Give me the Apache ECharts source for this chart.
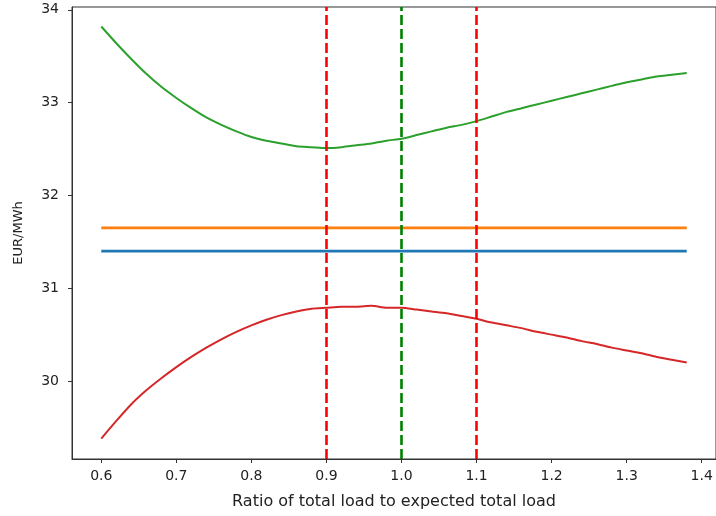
<!DOCTYPE html>
<html>
<head>
<meta charset="utf-8">
<script src="https://cdn.jsdelivr.net/npm/echarts@6/dist/echarts.min.js"></script>
<style>
  html, body { margin: 0; padding: 0; background: #fff; }
  #chart { width: 716px; height: 516px; }
</style>
</head>
<body>
<div id="chart"></div>
<script>
const loadRatio = [0.60, 0.62, 0.64, 0.66, 0.68, 0.70, 0.72, 0.74, 0.76, 0.78,
  0.80, 0.82, 0.84, 0.86, 0.88, 0.90, 0.92, 0.94, 0.96, 0.98,
  1.00, 1.02, 1.04, 1.06, 1.08, 1.10, 1.12, 1.14, 1.16, 1.18,
  1.20, 1.22, 1.24, 1.26, 1.28, 1.30, 1.32, 1.34, 1.36, 1.38];

const upperPrice = [33.82, 33.64, 33.47, 33.31, 33.17, 33.05, 32.94, 32.84, 32.76, 32.69,
  32.63, 32.59, 32.56, 32.53, 32.52, 32.51, 32.52, 32.54, 32.56, 32.59,
  32.61, 32.65, 32.69, 32.73, 32.76, 32.80, 32.85, 32.90, 32.94, 32.98,
  33.02, 33.06, 33.10, 33.14, 33.18, 33.22, 33.25, 33.28, 33.30, 33.32];

const lowerPrice = [29.38, 29.57, 29.75, 29.90, 30.03, 30.15, 30.26, 30.36, 30.45, 30.53,
  30.60, 30.66, 30.71, 30.75, 30.78, 30.79, 30.80, 30.80, 30.81, 30.79,
  30.79, 30.77, 30.75, 30.73, 30.70, 30.67, 30.63, 30.60, 30.57, 30.53,
  30.50, 30.47, 30.43, 30.40, 30.36, 30.33, 30.30, 30.26, 30.23, 30.20];

const flatOrange = 31.65;
const flatBlue = 31.40;

const xTicks = [0.6, 0.7, 0.8, 0.9, 1.0, 1.1, 1.2, 1.3, 1.4];
const yTicks = [30, 31, 32, 33, 34];

const bounds = [0.9, 1.1];
const expected = 1.0;

const pairs = ys => loadRatio.map((x, i) => [x, ys[i]]);
const flat = v => [[loadRatio[0], v], [loadRatio[loadRatio.length - 1], v]];

const font = 'DejaVu Sans';
const textColor = '#222';

const chart = echarts.init(document.getElementById('chart'), null, { renderer: 'canvas' });

chart.setOption({
  animation: false,
  grid: {
    left: 72, top: 7, right: -2, bottom: 57,
    show: true, borderColor: '#333', borderWidth: 1, backgroundColor: 'transparent'
  },
  xAxis: {
    type: 'value',
    min: 0.561,
    max: 1.419,
    name: 'Ratio of total load to expected total load',
    nameLocation: 'middle',
    nameGap: 35,
    nameTextStyle: { fontFamily: font, fontSize: 16, color: textColor },
    axisLine: { lineStyle: { color: '#333', width: 1 } },
    axisTick: { show: true, length: 4, customValues: xTicks, lineStyle: { color: '#333' } },
    axisLabel: {
      customValues: xTicks,
      formatter: v => v.toFixed(1),
      margin: 10,
      fontFamily: font, fontSize: 14, color: textColor
    },
    splitLine: { show: false }
  },
  yAxis: {
    type: 'value',
    min: 29.16,
    max: 34.03,
    name: 'EUR/MWh',
    nameLocation: 'middle',
    nameGap: 47,
    nameTextStyle: { fontFamily: font, fontSize: 13, color: textColor },
    axisLine: { show: true, lineStyle: { color: '#333', width: 1 } },
    axisTick: { show: true, length: 4, customValues: yTicks, lineStyle: { color: '#333' } },
    axisLabel: {
      customValues: yTicks,
      formatter: v => String(Math.round(v)),
      margin: 13,
      fontFamily: font, fontSize: 14, color: textColor
    },
    splitLine: { show: false }
  },
  series: [
    {
      type: 'line', data: flat(flatBlue), showSymbol: false,
      lineStyle: { color: '#1f77b4', width: 2.6 }
    },
    {
      type: 'line', data: flat(flatOrange), showSymbol: false,
      lineStyle: { color: '#ff7f0e', width: 2.6 }
    },
    {
      type: 'line', data: pairs(upperPrice), showSymbol: false, smooth: 0.25,
      lineStyle: { color: '#2ca02c', width: 2 }
    },
    {
      type: 'line', data: pairs(lowerPrice), showSymbol: false, smooth: 0.25,
      lineStyle: { color: '#d62728', width: 2 },
      markLine: {
        silent: true, symbol: 'none', label: { show: false },
        data: [
          { xAxis: bounds[0], lineStyle: { color: '#ff0000' } },
          { xAxis: expected, lineStyle: { color: '#008000' } },
          { xAxis: bounds[1], lineStyle: { color: '#ff0000' } }
        ],
        lineStyle: { type: [10, 4], width: 2.6 }
      }
    }
  ]
});
</script>
</body>
</html>
